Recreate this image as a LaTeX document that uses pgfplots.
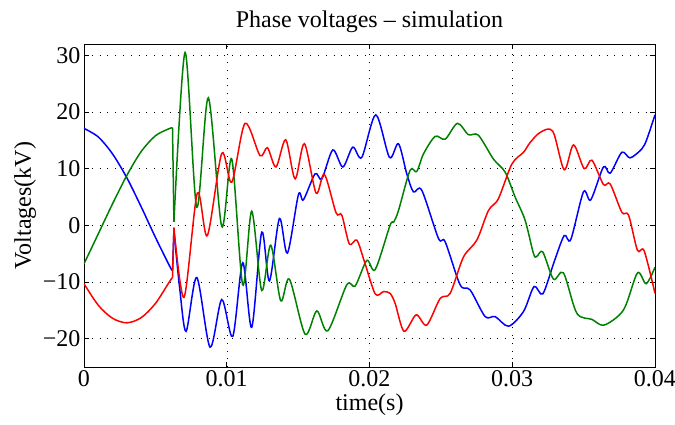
\documentclass[border=0pt]{standalone}
\usepackage{pgfplots}
\pgfplotsset{compat=1.18}
\usepackage{fontspec}
\setmainfont{Liberation Serif}
\definecolor{mblue}{rgb}{0,0,1}
\definecolor{mgreen}{rgb}{0,0.5,0}
\definecolor{mred}{rgb}{1,0,0}
\begin{document}
\begin{tikzpicture}
\path[use as bounding box] (-84pt,-57pt) rectangle (591pt,367pt);
\begin{axis}[
    width=571pt, height=323pt, scale only axis,
    xmin=0, xmax=0.04, ymin=-25, ymax=32,
    scaled x ticks=false,
    xtick={0,0.01,0.02,0.03,0.04}, xticklabels={0,0.01,0.02,0.03,0.04},
    ytick={-20,-10,0,10,20,30}, yticklabels={−20,−10,0,10,20,30},
    grid=major,
    major grid style={black, line width=0.4pt, dash pattern=on 0.8pt off 7pt},
    axis line style={line width=0.9pt},
    tick style={black, line width=0.6pt}, major tick length=5pt,
    ticklabel style={font=\fontsize{24}{27}\selectfont},
    label style={font=\fontsize{24}{27}\selectfont},
    title style={font=\fontsize{24}{27}\selectfont, yshift=2pt},
    title={Phase voltages – simulation},
    xlabel={time(s)}, ylabel={Voltages(kV)},
    every axis plot/.append style={line width=1.5pt},
]
% phase a (blue)
\addplot[mblue, smooth] coordinates {
(0,17.1) (0.001,15.6) (0.002,12.6) (0.003,8.4) (0.004,3.3) (0.005,-2.1) (0.006,-7.2) (0.0062,-8.0)};
\addplot[mblue] coordinates {(0.0062,-8.0) (0.0063,-1.0)};
\addplot[mblue, smooth] coordinates {
(0.0063,-1.0) (0.0067,-11) (0.00715,-18.7) (0.0079,-9.2) (0.00883,-21.5) (0.00965,-13.1)
(0.01042,-19.6) (0.01112,-6.6) (0.01175,-18.0) (0.01245,-1.2) (0.01299,-9.8) (0.01369,1.2)
(0.01425,-4.9) (0.01502,5.4) (0.01537,4.5) (0.01619,9.1) (0.01666,8.2) (0.01743,13.3)
(0.01813,10.3) (0.01883,13.8) (0.01946,12.0) (0.02044,19.5) (0.0214,12.0) (0.02203,14.4)
(0.02261,9.1) (0.02308,5.9) (0.02366,6.2) (0.02483,-2.3) (0.0253,-2.9) (0.02635,-10.5)
(0.02705,-11.4) (0.0281,-16.1) (0.0288,-16.1) (0.02974,-17.8) (0.03079,-15.2) (0.03153,-10.8)
(0.03214,-12.1) (0.03294,-6.4) (0.03364,-1.8) (0.0341,-2.5) (0.03499,5.9) (0.0355,4.5)
(0.03639,10.3) (0.03686,9.2) (0.03768,12.9) (0.03826,11.9) (0.03908,13.5) (0.03943,15.2)
(0.0400,19.5)};
% phase b (green)
\addplot[mgreen, smooth] coordinates {
(0,-6.8) (0.001,-1.5) (0.002,3.8) (0.003,8.8) (0.004,13.0) (0.005,15.8) (0.006,17.1) (0.0062,17.2)};
\addplot[mgreen] coordinates {(0.0062,17.2) (0.0063,0.6)};
\addplot[mgreen, smooth] coordinates {
(0.0063,0.6) (0.00708,30.5) (0.0079,3.2) (0.00871,22.5) (0.00965,-0.2) (0.01035,11.7)
(0.01112,-10.5) (0.01175,2.5) (0.01245,-11.5) (0.01308,-3.5) (0.01378,-13.3) (0.01439,-9.5)
(0.01549,-19.2) (0.01631,-15.1) (0.01708,-18.6) (0.01841,-10.5) (0.0190,-10.7) (0.01981,-6.2)
(0.0204,-7.8) (0.02144,0.0) (0.0217,0.6) (0.02203,2.6) (0.02284,9.7) (0.02331,9.5) (0.02378,12.6)
(0.0246,15.7) (0.0253,15.2) (0.02616,18.0) (0.02693,16.0) (0.02763,15.9) (0.02868,11.7)
(0.0295,9.4) (0.0302,5.0) (0.0309,0.9) (0.03149,-5.0) (0.03172,-5.5) (0.03214,-4.7)
(0.03289,-9.5) (0.03359,-8.4) (0.03452,-15.5) (0.03558,-16.6) (0.03644,-17.6) (0.0378,-14.9)
(0.03877,-8.4) (0.03938,-10.3) (0.0400,-7.4)};
% phase c (red)
\addplot[mred, smooth] coordinates {
(0,-10.3) (0.001,-14.1) (0.002,-16.4) (0.003,-17.2) (0.004,-16.3) (0.005,-13.8) (0.006,-9.9) (0.0062,-9.2)};
\addplot[mred] coordinates {(0.0062,-9.2) (0.0063,-0.4)};
\addplot[mred, smooth] coordinates {
(0.0063,-0.4) (0.00701,-12.7) (0.00794,5.7) (0.00864,-1.8) (0.00965,12.7) (0.01035,7.6)
(0.01128,18.0) (0.01233,12.3) (0.01285,13.7) (0.01345,10.3) (0.01413,15.1) (0.01479,8.2)
(0.01544,14.4) (0.01626,5.7) (0.01684,9.0) (0.01766,2.2) (0.01806,1.8) (0.01859,-3.3)
(0.01911,-2.6) (0.01962,-6.2) (0.0204,-12.1) (0.02098,-11.7) (0.02144,-12.0) (0.0218,-13.8)
(0.02242,-18.7) (0.02327,-15.8) (0.02401,-17.6) (0.02495,-12.9) (0.02565,-12.0) (0.02658,-5.6)
(0.02752,-2.6) (0.02833,2.6) (0.02903,4.7) (0.02997,10.8) (0.03079,12.9) (0.03125,14.6)
(0.03196,16.4) (0.03284,16.6) (0.03364,9.8) (0.03429,14.2) (0.03504,10.0) (0.03558,11.5)
(0.03639,7.2) (0.03686,7.3) (0.03768,2.3) (0.03815,1.8) (0.03877,-4.4) (0.03924,-4.5)
(0.0400,-12.0)};
\end{axis}
\end{tikzpicture}
\end{document}
